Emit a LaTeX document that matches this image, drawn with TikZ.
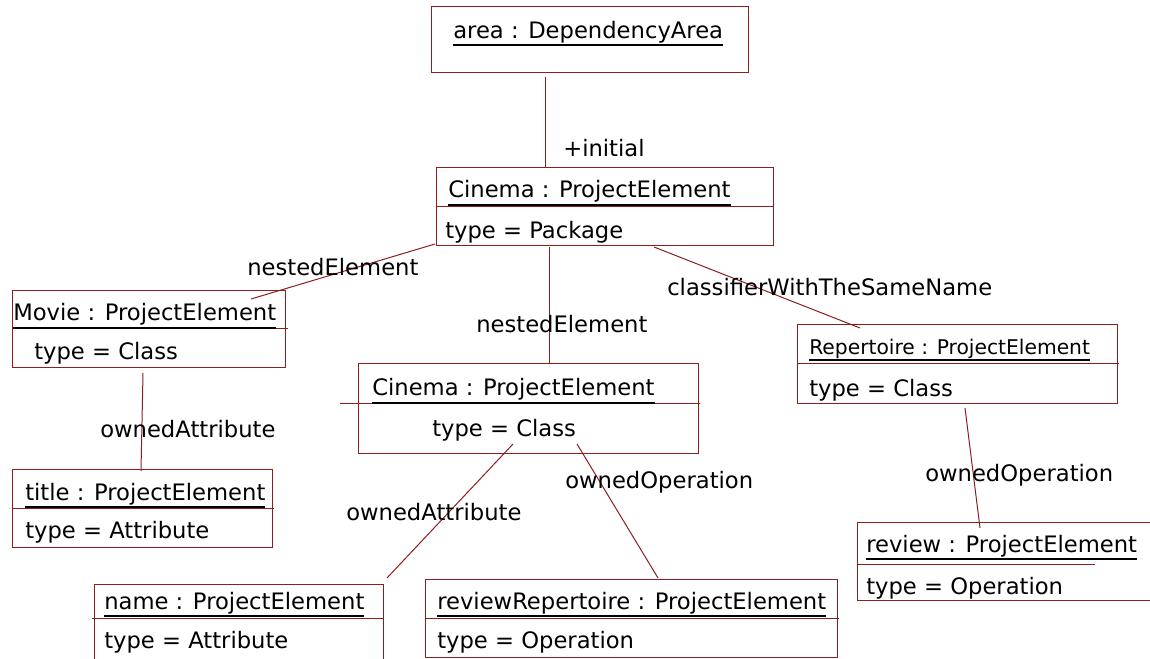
\documentclass[tikz,border=0pt]{standalone}
\usepackage{fontspec}
\setmainfont{DejaVu Sans}
\usetikzlibrary{fit}
\definecolor{edge}{RGB}{140,30,30}
% object name, underlined as in UML object diagrams
\newcommand\objname[1]{\vtop{\hbox{#1}\kern0.9pt\hrule height1.4pt}}
\begin{document}
\begin{tikzpicture}[x=0.75pt,y=-0.75pt,
  objbox/.style={draw=edge, line width=0.75pt, inner sep=0pt},
  divider/.style={draw=edge, line width=0.75pt},
  link/.style={draw=edge, line width=0.75pt},
  txt/.style={anchor=base west, inner sep=0pt, font=\fontsize{17}{20}\selectfont},
  smalltxt/.style={txt, font=\fontsize{15.2}{18}\selectfont}]
\useasboundingbox (0,0) rectangle (1150,659);
\clip (0,0) rectangle (1150,659);

% ---- object boxes ----
\node[objbox, fit={(431,7) (748,73)}] (area) {};
\node[objbox, fit={(436,168) (773,246)}] (pkg) {};
\node[objbox, fit={(12,291) (285,368)}] (movie) {};
\node[objbox, fit={(12,469) (272,547)}] (title) {};
\node[objbox, fit={(358,364) (698,453)}] (cls) {};
\node[objbox, fit={(797,325) (1117,403)}] (rep) {};
\node[objbox, fit={(857,522) (1165,600)}] (review) {};
\node[objbox, fit={(94,584) (383,670)}] (name) {};
\node[objbox, fit={(425,579) (837,657)}] (revrep) {};

% ---- compartment dividers ----
\draw[divider] (436,207) -- (773,207);
\draw[divider] (12,329) -- (288,329);
\draw[divider] (12,508) -- (274,508);
\draw[divider] (340,403) -- (700,403);
\draw[divider] (797,364) -- (1119,364);
\draw[divider] (857,564) -- (1095,564);
\draw[divider] (92,618) -- (383,618);
\draw[divider] (425,618) -- (839,618);

% ---- texts in the boxes ----
\node[txt] (area-t) at (453,38.5) {\objname{area : DependencyArea}};
\node[txt] (pkg-t) at (448,198) {\objname{Cinema : ProjectElement}};
\node[txt] (pkg-a) at (445,239) {type = Package};
\node[txt] (movie-t) at (13,321) {\objname{Movie : ProjectElement}};
\node[txt] (movie-a) at (34,360) {type = Class};
\node[txt] (title-t) at (25,500) {\objname{title : ProjectElement}};
\node[txt] (title-a) at (25,538) {type = Attribute};
\node[txt] (cls-t) at (372,396) {\objname{Cinema : ProjectElement}};
\node[txt] (cls-a) at (432,436) {type = Class};
\node[smalltxt] (rep-t) at (809,354) {\objname{Repertoire : ProjectElement}};
\node[txt] (rep-a) at (809,397) {type = Class};
\node[txt] (review-t) at (866,552) {\objname{review : ProjectElement}};
\node[txt] (review-a) at (866,594) {type = Operation};
\node[txt] (name-t) at (104,609) {\objname{name : ProjectElement}};
\node[txt] (name-a) at (104,648) {type = Attribute};
\node[txt] (revrep-t) at (437,609) {\objname{reviewRepertoire : ProjectElement}};
\node[txt] (revrep-a) at (437,648) {type = Operation};

% ---- link end points ----
\coordinate (e1a) at (545,77);   \coordinate (e1b) at (545,167);
\coordinate (e2a) at (435,244);  \coordinate (e2b) at (251,299);
\coordinate (e3a) at (549,247);  \coordinate (e3b) at (549,364);
\coordinate (e4a) at (654,247);  \coordinate (e4b) at (860,328);
\coordinate (e5a) at (143,373);  \coordinate (e5b) at (141,471);
\coordinate (e6a) at (513,444);  \coordinate (e6b) at (387,578);
\coordinate (e7a) at (577,444);  \coordinate (e7b) at (658,578);
\coordinate (e8a) at (965,408);  \coordinate (e8b) at (980,528);

% ---- links ----
\draw[link] (e1a) -- (e1b);
\draw[link] (e2a) -- (e2b);
\draw[link] (e3a) -- (e3b);
\draw[link] (e4a) -- (e4b);
\draw[link] (e5a) -- (e5b);
\draw[link] (e6a) -- (e6b);
\draw[link] (e7a) -- (e7b);
\draw[link] (e8a) -- (e8b);

% ---- link labels ----
\node[txt] (l1) at (563,157) {+initial};
\node[txt] (l2) at (247,276) {nestedElement};
\node[txt] (l3) at (476,333) {nestedElement};
\node[txt] (l4) at (667,295.5) {classifierWithTheSameName};
\node[txt] (l5) at (100,437) {ownedAttribute};
\node[txt] (l6) at (346,520) {ownedAttribute};
\node[txt] (l7) at (565,488) {ownedOperation};
\node[txt] (l8) at (925,481) {ownedOperation};
\end{tikzpicture}
\end{document}
